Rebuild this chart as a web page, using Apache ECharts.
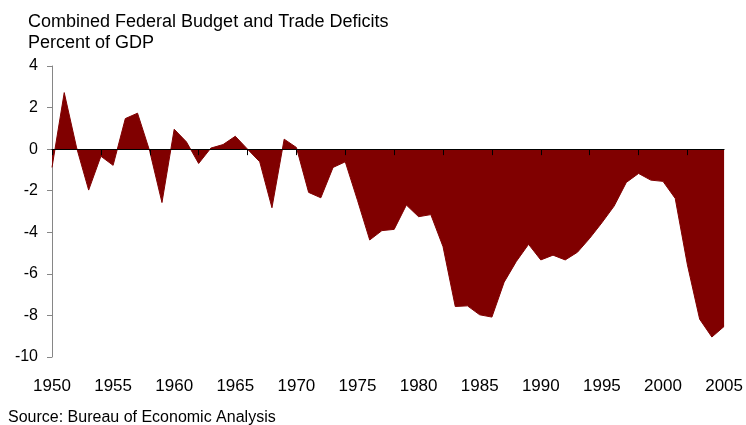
<!DOCTYPE html>
<html>
<head>
<meta charset="utf-8">
<script src="https://cdn.jsdelivr.net/npm/echarts@6/dist/echarts.min.js"></script>
<style>
  html, body { margin: 0; padding: 0; background: #fff; }
  #chart { width: 746px; height: 425px; }
</style>
</head>
<body>
<div id="chart"></div>
<script>
// Combined Federal Budget and Trade Deficits, percent of GDP
var years = [];
for (var y = 1950; y <= 2005; y++) years.push(String(y));

var deficits = [
  -0.88, 2.72, 0.1, -1.97, -0.34, -0.78, 1.47, 1.73, -0.1, -2.57,   // 1950-59
  0.96, 0.35, -0.69, 0.05, 0.22, 0.62, 0.0, -0.61, -2.82, 0.48,     // 1960-69
  0.08, -2.08, -2.34, -0.88, -0.61, -2.46, -4.37, -3.92, -3.86, -2.69, // 1970-79
  -3.25, -3.15, -4.69, -7.57, -7.54, -7.97, -8.08, -6.4, -5.4, -4.58,  // 1980-89
  -5.33, -5.1, -5.33, -4.96, -4.29, -3.54, -2.74, -1.6, -1.17, -1.49,  // 1990-99
  -1.55, -2.37, -5.57, -8.18, -9.04, -8.53                             // 2000-05
];

var yTicks = [4, 2, 0, -2, -4, -6, -8, -10];

var font = '"Liberation Sans", Arial, sans-serif';
var chart = echarts.init(document.getElementById('chart'));

var option = {
  animation: false,
  textStyle: { fontFamily: font },
  title: {
    text: 'Combined Federal Budget and Trade Deficits\nPercent of GDP',
    left: 23,
    top: 7,
    textStyle: { fontFamily: font, fontSize: 18, fontWeight: 'normal', color: '#000', lineHeight: 21 }
  },
  graphic: [{
    type: 'text',
    left: 8,
    top: 410,
    style: { text: 'Source: Bureau of Economic Analysis', font: '16px ' + font, fill: '#000' }
  }],
  grid: { left: 52, right: 18, top: 66, bottom: 68, containLabel: false },
  xAxis: [{
    type: 'category',
    position: 'bottom',
    data: years,
    boundaryGap: false,
    z: 5,
    axisLine: { onZero: true, lineStyle: { color: '#000', width: 1 } },
    axisTick: { show: true, interval: 3, length: 6, lineStyle: { color: '#000' } },
    axisLabel: { show: false },
    splitLine: { show: false }
  }, {
    type: 'category',
    position: 'bottom',
    data: years,
    boundaryGap: false,
    axisLine: { show: false, onZero: false },
    axisTick: { show: false },
    axisLabel: { interval: 4, margin: 21, fontSize: 17, color: '#000', fontFamily: font },
    splitLine: { show: false }
  }],
  yAxis: {
    type: 'value',
    min: yTicks[yTicks.length - 1],
    max: yTicks[0],
    interval: 2,
    axisLine: { show: true, lineStyle: { color: '#868686', width: 1 } },
    axisTick: { show: true, length: 5, lineStyle: { color: '#868686' } },
    axisLabel: { margin: 14, fontSize: 16, color: '#000', fontFamily: font },
    splitLine: { show: false }
  },
  series: [{
    type: 'line',
    xAxisIndex: 0,
    data: deficits,
    symbol: 'none',
    lineStyle: { color: '#800000', width: 1 },
    areaStyle: { color: '#800000', opacity: 1 },
    z: 1
  }]
};
chart.setOption(option);
</script>
</body>
</html>
